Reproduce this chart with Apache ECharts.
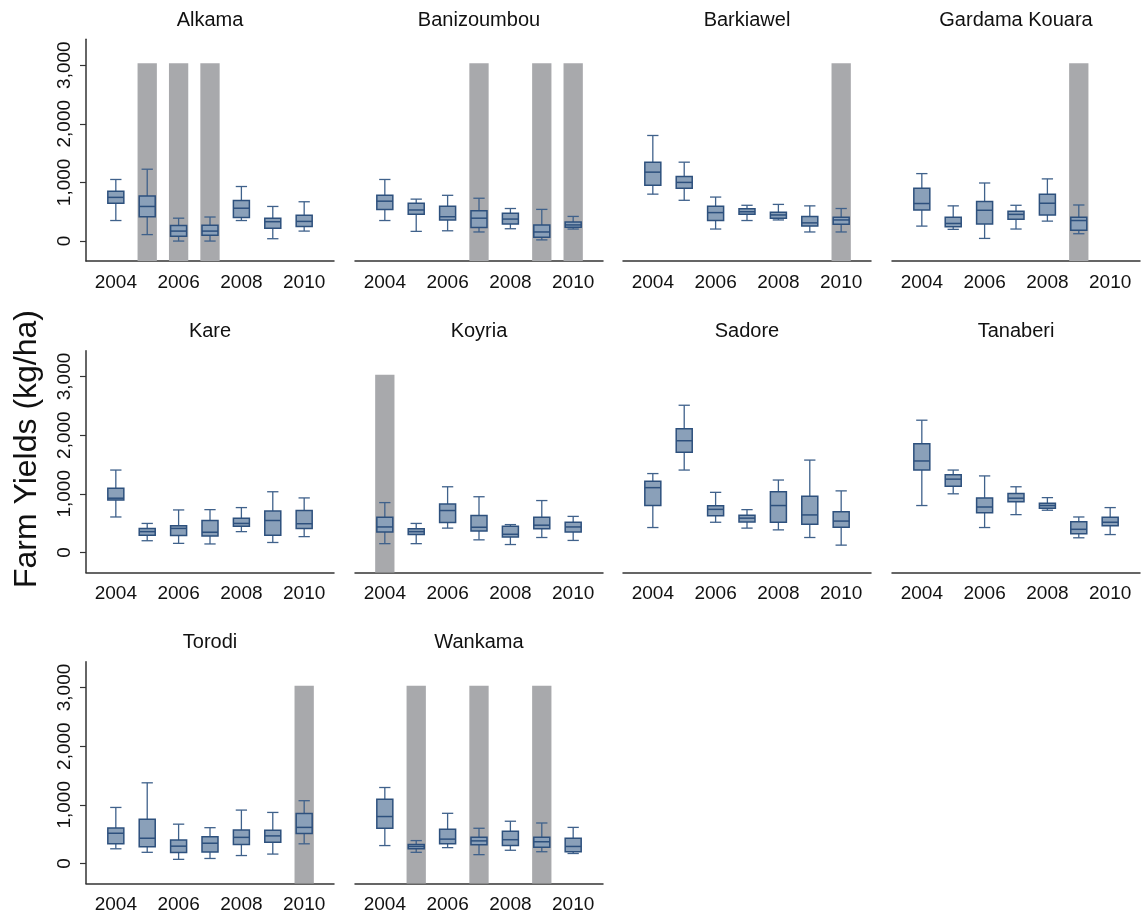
<!DOCTYPE html>
<html>
<head>
<meta charset="utf-8">
<script src="https://cdn.jsdelivr.net/npm/echarts@6/dist/echarts.min.js"></script>
<style>
html,body{margin:0;padding:0;background:#fff;}
#chart{width:1142px;height:917px;}
</style>
</head>
<body>
<div id="chart"></div>
<script>
// ---------------- DATA ----------------
const years = [2004, 2005, 2006, 2007, 2008, 2009, 2010];
const xTickLabels = [2004, 2006, 2008, 2010];
const yTickValues = [0, 1000, 2000, 3000];
const sites = ['Alkama', 'Banizoumbou', 'Barkiawel', 'Gardama Kouara', 'Kare',
               'Koyria', 'Sadore', 'Tanaberi', 'Torodi', 'Wankama'];
const yLabel = 'Farm Yields (kg/ha)';
// each year: [min, Q1, median, Q3, max] (kg/ha); null = no data
const alkama      = [[350,645,745,850,1050],[110,415,590,770,1225],[0,80,170,265,390],[0,100,170,270,410],[350,400,560,690,930],[40,220,330,390,590],[170,250,335,440,670]];
const banizoumbou = [[350,540,680,780,1050],[165,455,530,645,715],[175,360,415,595,780],[155,230,390,515,730],[210,290,375,475,555],[20,65,155,275,540],[205,235,275,325,420]];
const barkiawel   = [[800,950,1175,1345,1800],[695,900,1000,1100,1345],[205,350,485,595,750],[350,455,500,550,610],[360,390,445,490,625],[155,255,310,420,600],[155,285,360,405,555]];
const gardama     = [[255,530,640,900,1150],[200,245,300,405,600],[45,290,525,675,990],[205,370,455,510,610],[340,445,645,800,1060],[125,185,350,405,615],null];
const kare        = [[605,895,925,1095,1405],[200,295,355,410,495],[155,290,410,455,725],[145,280,345,545,730],[355,445,495,585,765],[170,295,545,705,1035],[270,410,490,715,930]];
const koyria      = [[150,350,435,600,850],[150,305,355,405,495],[415,510,715,825,1120],[215,365,430,630,950],[135,265,310,445,475],[255,405,465,600,885],[205,350,435,515,615]];
const sadore      = [[425,800,1105,1215,1345],[1405,1710,1905,2110,2510],[515,625,735,795,1025],[415,520,585,635,730],[385,515,800,1035,1235],[255,480,640,960,1575],[125,430,535,695,1050]];
const tanaberi    = [[800,1405,1560,1855,2255],[1000,1130,1250,1325,1405],[425,675,775,930,1305],[645,865,925,1005,1120],[720,755,800,840,935],[250,320,395,525,605],[305,455,515,600,765]];
const torodi      = [[250,335,515,605,955],[190,285,430,755,1375],[70,185,295,400,670],[85,195,345,455,610],[135,325,445,570,910],[160,360,470,565,870],[335,510,615,850,1070]];
const wankama     = [[305,600,800,1095,1295],[190,250,290,325,390],[270,335,415,585,855],[150,320,385,445,600],[225,305,405,550,720],[200,275,370,445,690],[170,200,290,430,615]];
// years highlighted with a grey column, per site
const shadeAlkama      = [2005, 2006, 2007];
const shadeBanizoumbou = [2007, 2009, 2010];
const shadeBarkiawel   = [2010];
const shadeGardama     = [2009];
const shadeKare        = [];
const shadeKoyria      = [2004];
const shadeSadore      = [];
const shadeTanaberi    = [];
const shadeTorodi      = [2010];
const shadeWankama     = [2005, 2007, 2009];
const shadeTop = 3030;   // top of grey columns (kg/ha)
const yMin = -340, yMax = 3440;
const xMin = 2003.05, xMax = 2010.95;

// ---------------- CHART ----------------
const siteData  = [alkama, banizoumbou, barkiawel, gardama, kare, koyria, sadore, tanaberi, torodi, wankama];
const siteShade = [shadeAlkama, shadeBanizoumbou, shadeBarkiawel, shadeGardama, shadeKare, shadeKoyria, shadeSadore, shadeTanaberi, shadeTorodi, shadeWankama];

const FONT = 'Liberation Sans, Arial, Helvetica, sans-serif';
const colLeft = [86, 355, 623, 892];
const rowTop = [39.3, 350.7, 661.7];
const gW = 248, gH = 221.7;
const BOX_FILL = '#8aa0b9', BOX_LINE = '#2d507d', WHISK = '#3f618b', SHADE = '#a8a9ac';

const grids = [], xAxes = [], yAxes = [], series = [], titles = [];
sites.forEach(function (name, i) {
  const r = Math.floor(i / 4), c = i % 4;
  grids.push({left: colLeft[c], top: rowTop[r], width: gW, height: gH});
  xAxes.push({
    type: 'value', gridIndex: i, min: xMin, max: xMax,
    axisLine: {show: true, onZero: false, lineStyle: {color: '#333', width: 1.5}},
    axisTick: {show: false},
    splitLine: {show: false},
    axisLabel: {customValues: xTickLabels, formatter: function (v) { return String(v); },
      color: '#111', fontSize: 19, fontFamily: FONT, margin: 12}
  });
  const showY = (c === 0);
  yAxes.push({
    type: 'value', gridIndex: i, min: yMin, max: yMax,
    splitLine: {show: false},
    axisLine: {show: showY, lineStyle: {color: '#333', width: 1.5}},
    axisTick: {show: showY, customValues: yTickValues, length: 6, lineStyle: {color: '#333', width: 1.2}},
    axisLabel: {show: showY, customValues: yTickValues, rotate: 90, margin: 12,
      color: '#111', fontSize: 19, fontFamily: FONT,
      formatter: function (v) { return v.toLocaleString('en-US'); }}
  });
  titles.push({
    text: name, left: colLeft[c] + gW / 2, top: rowTop[r] - 29, textAlign: 'center', padding: 0,
    textStyle: {fontSize: 20, fontWeight: 'normal', color: '#111', fontFamily: FONT}
  });
  // grey columns
  series.push({
    type: 'custom', xAxisIndex: i, yAxisIndex: i, z: 1, silent: true,
    data: siteShade[i].map(function (y) { return [y, shadeTop]; }),
    renderItem: function (params, api) {
      const x = api.value(0);
      const top = api.coord([x, api.value(1)]);
      const w = api.size([0.615, 0])[0];
      const bottom = params.coordSys.y + params.coordSys.height;
      return {type: 'rect', shape: {x: top[0] - w / 2, y: top[1], width: w, height: bottom - top[1]},
        style: {fill: SHADE}};
    }
  });
  // box plots
  const boxes = [];
  siteData[i].forEach(function (b, k) { if (b) boxes.push([years[k]].concat(b)); });
  series.push({
    type: 'custom', xAxisIndex: i, yAxisIndex: i, z: 2, silent: true,
    encode: {x: 0, y: [1, 2, 3, 4, 5]},
    data: boxes,
    renderItem: function (params, api) {
      const x = api.value(0);
      const pMin = api.coord([x, api.value(1)]);
      const pQ1 = api.coord([x, api.value(2)]);
      const pMed = api.coord([x, api.value(3)]);
      const pQ3 = api.coord([x, api.value(4)]);
      const pMax = api.coord([x, api.value(5)]);
      const bw = api.size([0.51, 0])[0];
      const cw = api.size([0.36, 0])[0];
      const cx = pMed[0];
      const ws = {stroke: WHISK, lineWidth: 1.3};
      return {type: 'group', children: [
        {type: 'line', shape: {x1: cx, y1: pQ3[1], x2: cx, y2: pMax[1]}, style: ws},
        {type: 'line', shape: {x1: cx, y1: pQ1[1], x2: cx, y2: pMin[1]}, style: ws},
        {type: 'line', shape: {x1: cx - cw / 2, y1: pMax[1], x2: cx + cw / 2, y2: pMax[1]}, style: ws},
        {type: 'line', shape: {x1: cx - cw / 2, y1: pMin[1], x2: cx + cw / 2, y2: pMin[1]}, style: ws},
        {type: 'rect', shape: {x: cx - bw / 2, y: pQ3[1], width: bw, height: pQ1[1] - pQ3[1]},
          style: {fill: BOX_FILL, stroke: BOX_LINE, lineWidth: 1.5}},
        {type: 'line', shape: {x1: cx - bw / 2, y1: pMed[1], x2: cx + bw / 2, y2: pMed[1]},
          style: {stroke: BOX_LINE, lineWidth: 1.5}}
      ]};
    }
  });
});

const chart = echarts.init(document.getElementById('chart'), null, {renderer: 'canvas'});
chart.setOption({
  backgroundColor: '#fff',
  animation: false,
  title: titles,
  grid: grids,
  xAxis: xAxes,
  yAxis: yAxes,
  series: series,
  graphic: [{
    type: 'text', x: 27, y: 449, rotation: Math.PI / 2,
    style: {text: yLabel, x: 0, y: 0, align: 'center', verticalAlign: 'middle',
      font: '32px ' + FONT, fill: '#111'}
  }]
});
</script>
</body>
</html>
